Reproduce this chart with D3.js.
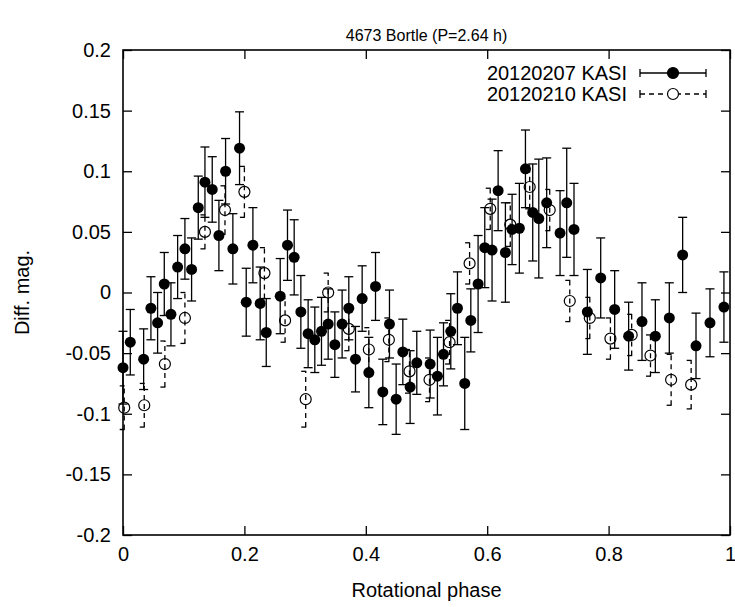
<!DOCTYPE html>
<html>
<head>
<meta charset="utf-8">
<script src="https://cdn.jsdelivr.net/npm/d3@7"></script>
<style>
body{margin:0;background:#fff;}
svg text{font-family:"Liberation Sans",Arial,sans-serif;fill:#000;}
</style>
</head>
<body>
<svg id="canvas" width="735" height="607"></svg>
<script>
// 20120207 KASI (filled)
const phaseA=[0.000,0.012,0.034,0.046,0.057,0.068,0.079,0.090,0.102,0.113,0.124,0.135,0.147,0.158,0.169,0.181,0.192,0.203,0.214,0.226,0.236,0.259,0.271,0.282,0.293,0.305,0.316,0.327,0.338,0.349,0.361,0.372,0.383,0.394,0.405,0.416,0.428,0.439,0.450,0.461,0.473,0.484,0.506,0.518,0.528,0.540,0.551,0.563,0.573,0.585,0.596,0.608,0.618,0.630,0.641,0.653,0.663,0.675,0.685,0.698,0.720,0.731,0.743,0.765,0.787,0.810,0.833,0.855,0.877,0.900,0.922,0.944,0.967,0.990];
const magA=[-0.062,-0.041,-0.055,-0.013,-0.025,0.007,-0.018,0.021,0.036,0.019,0.070,0.091,0.085,0.047,0.100,0.036,0.119,-0.008,0.039,-0.009,-0.033,-0.003,0.039,0.029,-0.016,-0.034,-0.039,-0.032,-0.026,-0.043,-0.026,-0.013,-0.055,-0.005,-0.066,0.005,-0.082,-0.026,-0.088,-0.049,-0.078,-0.058,-0.059,-0.069,-0.051,-0.032,-0.013,-0.075,-0.023,0.007,0.037,0.035,0.084,0.033,0.052,0.053,0.102,0.066,0.061,0.074,0.049,0.074,0.052,-0.016,0.012,-0.014,-0.036,-0.024,-0.036,-0.021,0.031,-0.044,-0.025,-0.012];
const errA=[0.030,0.027,0.025,0.026,0.025,0.026,0.026,0.026,0.025,0.026,0.026,0.029,0.027,0.029,0.027,0.029,0.030,0.028,0.031,0.030,0.028,0.031,0.029,0.031,0.030,0.028,0.027,0.028,0.029,0.027,0.028,0.026,0.027,0.027,0.029,0.028,0.027,0.028,0.029,0.027,0.030,0.026,0.028,0.032,0.026,0.031,0.030,0.038,0.026,0.040,0.033,0.042,0.033,0.041,0.029,0.037,0.032,0.040,0.049,0.037,0.035,0.045,0.038,0.035,0.033,0.032,0.028,0.032,0.030,0.029,0.031,0.027,0.028,0.029];

// 20120210 KASI (open)
const phaseB=[0.002,0.035,0.069,0.102,0.135,0.168,0.200,0.233,0.267,0.301,0.338,0.372,0.405,0.438,0.472,0.505,0.538,0.571,0.605,0.638,0.670,0.703,0.736,0.769,0.803,0.838,0.869,0.903,0.936];
const magB=[-0.095,-0.093,-0.059,-0.021,0.050,0.068,0.083,0.016,-0.023,-0.088,0.000,-0.030,-0.047,-0.039,-0.065,-0.072,-0.041,0.024,0.069,0.056,0.087,0.068,-0.007,-0.021,-0.038,-0.035,-0.052,-0.072,-0.076];
const errB=[0.018,0.018,0.019,0.021,0.014,0.020,0.021,0.021,0.018,0.023,0.016,0.018,0.018,0.018,0.018,0.018,0.018,0.017,0.017,0.018,0.018,0.017,0.017,0.017,0.017,0.017,0.017,0.021,0.020];

const xTicks=[0,0.2,0.4,0.6,0.8,1];
const xTickLabels=["0","0.2","0.4","0.6","0.8","1"];
const yTicks=[-0.2,-0.15,-0.1,-0.05,0,0.05,0.1,0.15,0.2];
const yTickLabels=["-0.2","-0.15","-0.1","-0.05","0","0.05","0.1","0.15","0.2"];
const seriesNames=["20120207 KASI","20120210 KASI"];

let canvas=d3.select("#canvas");
let w=735, h=607;
const m={left:123,top:50,right:5,bottom:72};
const pw=w-m.left-m.right, ph=h-m.top-m.bottom;

let x=d3.scaleLinear().domain([0,1]).range([m.left,m.left+pw]);
let y=d3.scaleLinear().domain([-0.2,0.2]).range([m.top+ph,m.top]);

// axes with inward ticks
let gx=canvas.append("g").attr("transform",`translate(0,${m.top+ph})`)
  .call(d3.axisBottom(x).tickValues(xTicks).tickFormat((d,i)=>xTickLabels[i]).tickSizeInner(-9).tickSizeOuter(0).tickPadding(12));
let gxt=canvas.append("g").attr("transform",`translate(0,${m.top})`)
  .call(d3.axisTop(x).tickValues(xTicks).tickFormat("").tickSizeInner(-9).tickSizeOuter(0));
let gy=canvas.append("g").attr("transform",`translate(${m.left},0)`)
  .call(d3.axisLeft(y).tickValues(yTicks).tickFormat((d,i)=>yTickLabels[i]).tickSizeInner(-9).tickSizeOuter(0).tickPadding(12));
let gyr=canvas.append("g").attr("transform",`translate(${m.left+pw},0)`)
  .call(d3.axisRight(y).tickValues(yTicks).tickFormat("").tickSizeInner(-9).tickSizeOuter(0));
[gx,gxt,gy,gyr].forEach(g=>{
  g.select(".domain").remove();
  g.selectAll("line").attr("stroke","#000").attr("stroke-width",1.3);
  g.selectAll("text").style("font-size","20px").attr("fill","#000");
});

canvas.append("rect").attr("x",m.left).attr("y",m.top).attr("width",pw).attr("height",ph)
  .attr("fill","none").attr("stroke","#000").attr("stroke-width",1.6);

// titles
canvas.append("text").attr("x",m.left+pw/2).attr("y",41).attr("text-anchor","middle").style("font-size","16px").text("4673 Bortle (P=2.64 h)");
canvas.append("text").attr("x",m.left+pw/2).attr("y",597).attr("text-anchor","middle").style("font-size","20px").text("Rotational phase");
canvas.append("text").attr("transform",`translate(29,${m.top+ph/2}) rotate(-90)`).attr("text-anchor","middle").style("font-size","20px").text("Diff. mag.");

const cap=4.5;
function errBars(px,mg,er,dash){
  let g=canvas.append("g").attr("stroke","#000").attr("stroke-width",1.3).attr("stroke-dasharray",dash);
  px.forEach((p,i)=>{
    let xx=x(p), y1=y(mg[i]-er[i]), y2=y(mg[i]+er[i]);
    g.append("line").attr("x1",xx).attr("x2",xx).attr("y1",y1).attr("y2",y2);
    g.append("line").attr("x1",xx-cap).attr("x2",xx+cap).attr("y1",y1).attr("y2",y1).attr("stroke-dasharray",null);
    g.append("line").attr("x1",xx-cap).attr("x2",xx+cap).attr("y1",y2).attr("y2",y2).attr("stroke-dasharray",null);
  });
}
errBars(phaseB,magB,errB,"5,4");
errBars(phaseA,magA,errA,null);

canvas.append("g").selectAll("circle").data(phaseB).join("circle")
  .attr("cx",d=>x(d)).attr("cy",(d,i)=>y(magB[i])).attr("r",5.5)
  .attr("fill","none").attr("stroke","#000").attr("stroke-width",1.2);
canvas.append("g").selectAll("circle").data(phaseA).join("circle")
  .attr("cx",d=>x(d)).attr("cy",(d,i)=>y(magA[i])).attr("r",5.5)
  .attr("fill","#000");

// legend
let leg=canvas.append("g");
const lx1=640, lx2=706, lys=[73,94];
lys.forEach((ly,i)=>{
  leg.append("text").attr("x",627).attr("y",ly+7).attr("text-anchor","end").style("font-size","20px").text(seriesNames[i]);
  leg.append("line").attr("x1",lx1).attr("x2",lx2).attr("y1",ly).attr("y2",ly).attr("stroke","#000").attr("stroke-width",1.3).attr("stroke-dasharray",i?"5,4":null);
  [lx1,lx2].forEach(xx=>leg.append("line").attr("x1",xx).attr("x2",xx).attr("y1",ly-4).attr("y2",ly+4).attr("stroke","#000").attr("stroke-width",1.3));
  leg.append("circle").attr("cx",(lx1+lx2)/2).attr("cy",ly).attr("r",5.5)
    .attr("fill",i?"#fff":"#000").attr("stroke","#000").attr("stroke-width",1.2);
});
</script>
</body>
</html>
